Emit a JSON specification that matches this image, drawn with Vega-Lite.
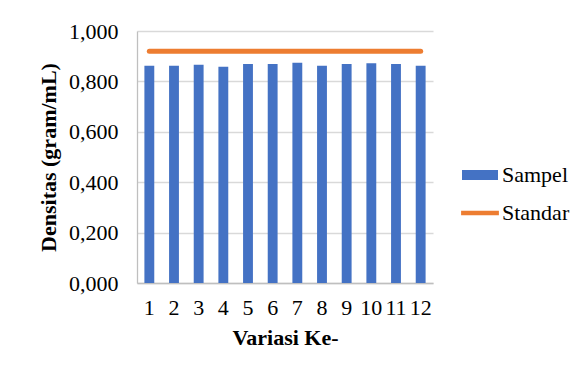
{
  "$schema": "https://vega.github.io/schema/vega-lite/v6.json",
  "autosize": "none",
  "width": 296,
  "height": 252,
  "padding": {"left": 137, "top": 31, "right": 150, "bottom": 87},
  "background": "white",
  "config": {
    "font": "Liberation Serif",
    "view": {"stroke": null},
    "axis": {"labelFont": "Liberation Serif", "titleFont": "Liberation Serif", "labelColor": "#000", "titleColor": "#000", "labelFontSize": 22, "titleFontSize": 22, "titleFontWeight": "bold"},
    "legend": {"labelFont": "Liberation Serif", "labelFontSize": 22, "labelColor": "#000"}
  },
  "data": {
    "values": [
      {"v": "1", "Sampel": 0.862, "Standar": 0.92},
      {"v": "2", "Sampel": 0.862, "Standar": 0.92},
      {"v": "3", "Sampel": 0.866, "Standar": 0.92},
      {"v": "4", "Sampel": 0.858, "Standar": 0.92},
      {"v": "5", "Sampel": 0.869, "Standar": 0.92},
      {"v": "6", "Sampel": 0.869, "Standar": 0.92},
      {"v": "7", "Sampel": 0.874, "Standar": 0.92},
      {"v": "8", "Sampel": 0.862, "Standar": 0.92},
      {"v": "9", "Sampel": 0.869, "Standar": 0.92},
      {"v": "10", "Sampel": 0.872, "Standar": 0.92},
      {"v": "11", "Sampel": 0.869, "Standar": 0.92},
      {"v": "12", "Sampel": 0.862, "Standar": 0.92}
    ]
  },
  "encoding": {
    "x": {
      "field": "v", "type": "ordinal", "sort": null,
      "scale": {"paddingInner": 0.6, "paddingOuter": 0.3},
      "axis": {"title": "Variasi Ke-", "labelAngle": 0, "ticks": false, "domainColor": "#BFBFBF", "domainWidth": 1.3, "labelPadding": 14, "titlePadding": 9}
    }
  },
  "layer": [
    {
      "mark": {"type": "bar", "color": "#4472C4"},
      "encoding": {
        "y": {
          "field": "Sampel", "type": "quantitative",
          "scale": {"domain": [0, 1]},
          "axis": {"title": "Densitas (gram/mL)", "values": [0, 0.2, 0.4, 0.6, 0.8, 1.0], "labelExpr": "replace(format(datum.value, '.3f'), '.', ',')", "ticks": false, "domain": true, "domainColor": "#BFBFBF", "domainWidth": 1.3, "gridColor": "#D9D9D9", "gridWidth": 1.3, "labelPadding": 19, "titlePadding": 8}
        }
      }
    },
    {
      "mark": {"type": "line", "color": "#ED7D31", "strokeWidth": 5, "strokeCap": "round"},
      "encoding": {"y": {"field": "Standar", "type": "quantitative"}}
    },
    {
      "transform": [{"fold": ["Sampel", "Standar"], "as": ["seri", "nilai"]}],
      "mark": {"type": "point", "filled": true, "opacity": 0},
      "encoding": {
        "y": {"field": "nilai", "type": "quantitative"},
        "color": {"field": "seri", "type": "nominal", "scale": {"domain": ["Sampel", "Standar"], "range": ["#4472C4", "#ED7D31"]}, "legend": {"title": null, "orient": "none", "legendX": 325, "legendY": 126, "padding": 0, "symbolSize": 1296, "symbolOpacity": 1, "symbolStrokeWidth": 0, "labelOffset": 4, "rowPadding": 9}},
        "shape": {"field": "seri", "type": "nominal", "scale": {"domain": ["Sampel", "Standar"], "range": ["M-1,-0.28H1V0.28H-1Z", "M-1.05,-0.13H1.05V0.13H-1.05Z"]}, "legend": {"title": null, "orient": "none", "legendX": 325, "legendY": 126, "padding": 0, "symbolSize": 1296, "symbolOpacity": 1, "symbolStrokeWidth": 0, "labelOffset": 4, "rowPadding": 9}}
      }
    }
  ],
  "resolve": {"scale": {"y": "shared"}}
}
